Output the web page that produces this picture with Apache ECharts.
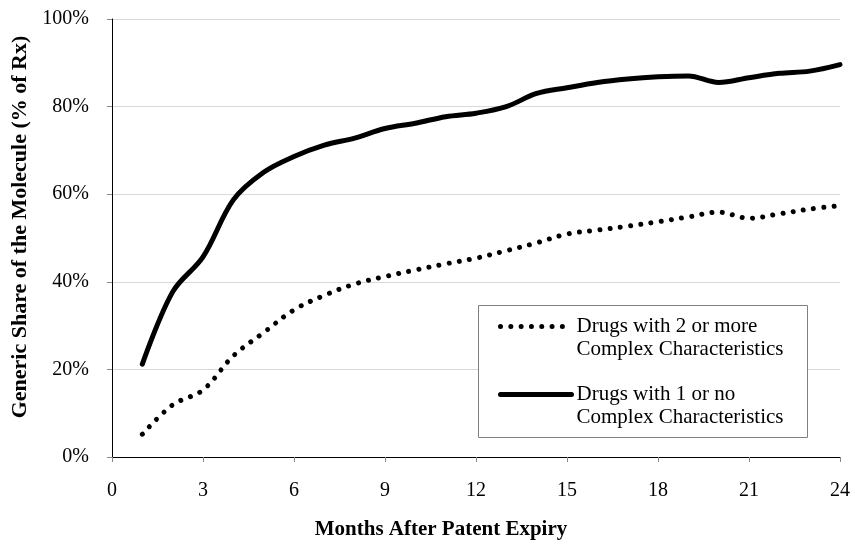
<!DOCTYPE html>
<html>
<head>
<meta charset="utf-8">
<script src="https://cdn.jsdelivr.net/npm/echarts@6/dist/echarts.min.js"></script>
<style>html,body{margin:0;padding:0;background:#fff;}#chart{width:855px;height:545px;}</style>
</head>
<body>
<div id="chart"></div>
<script>
var months = [1,2,3,4,5,6,7,8,9,10,11,12,13,14,15,16,17,18,19,20,21,22,23,24];
var complexTwoOrMore = [5.2,11.9,15.3,23.1,28.4,33.6,36.9,39.5,41.2,42.7,44.1,45.4,47.1,48.9,50.9,51.8,52.7,53.7,54.8,55.9,54.5,55.5,56.6,57.4];
var complexOneOrNone = [21.2,37.7,45.7,58.7,65.0,68.6,71.2,72.8,75.0,76.2,77.7,78.5,80.0,83.0,84.3,85.5,86.3,86.8,87.0,85.5,86.6,87.6,88.1,89.6];
var xTicks = [0,3,6,9,12,15,18,21,24];
var yTicks = [0,20,40,60,80,100];
var seriesNames = ['Drugs with 2 or more\nComplex Characteristics','Drugs with 1 or no\nComplex Characteristics'];

function pairs(xs, ys){ return xs.map(function(x,i){ return [x, ys[i]]; }); }

var FONT = '"Liberation Serif", "DejaVu Serif", serif';
var chart = echarts.init(document.getElementById('chart'), null, {renderer:'canvas'});
chart.setOption({
  animation: false,
  backgroundColor: '#ffffff',
  textStyle: { fontFamily: FONT, color: '#000' },
  grid: { left: 112, right: 15, top: 19, bottom: 88 },
  graphic: [{
    type: 'rect', z: 3, silent: true,
    shape: { x: 478.5, y: 305.5, width: 329, height: 132 },
    style: { fill: '#fff', stroke: '#808080', lineWidth: 1 }
  }],
  legend: {
    orient: 'vertical',
    left: 498, top: 292,
    padding: 0,
    itemGap: -1,
    itemWidth: 71, itemHeight: 14,
    selectedMode: false,
    z: 5,
    data: [seriesNames[0], seriesNames[1]],
    formatter: function(name){ return '\n' + name; },
    itemStyle: { opacity: 0 },
    lineStyle: { width: 'inherit' },
    textStyle: { fontFamily: FONT, fontSize: 21, color: '#000', lineHeight: 23 }
  },
  xAxis: {
    type: 'value', min: 0, max: 24, interval: 3,
    name: 'Months After Patent Expiry', nameLocation: 'middle', nameGap: 62,
    nameTextStyle: { fontFamily: FONT, fontSize: 21, fontWeight: 'bold', color: '#000', padding: [0, 70, 0, 0] },
    axisLine: { show: true, lineStyle: { color: '#000', width: 1 } },
    axisTick: { show: true, length: 5, lineStyle: { color: '#888' } },
    axisLabel: { fontFamily: FONT, fontSize: 20, color: '#000', margin: 24,
      formatter: function(v){ return xTicks.indexOf(v) >= 0 ? String(v) : ''; } },
    splitLine: { show: false }
  },
  yAxis: {
    type: 'value', min: 0, max: 100, interval: 20,
    name: 'Generic Share of the Molecule (% of Rx)', nameLocation: 'middle', nameGap: 80,
    nameTextStyle: { fontFamily: FONT, fontSize: 22, fontWeight: 'bold', color: '#000', padding: [0, 0, 0, 22] },
    axisLine: { show: true, lineStyle: { color: '#000', width: 1 } },
    axisTick: { show: true, length: 5, lineStyle: { color: '#888' } },
    axisLabel: { fontFamily: FONT, fontSize: 20, color: '#000', margin: 23,
      formatter: function(v){ return yTicks.indexOf(v) >= 0 ? v + '%' : ''; } },
    splitLine: { show: true, lineStyle: { color: '#d9d9d9', width: 1 } }
  },
  series: [
    {
      name: seriesNames[0], type: 'line', data: pairs(months, complexTwoOrMore),
      smooth: 0.35, showSymbol: false, symbol: 'none',
      lineStyle: { color: '#000', width: 5, type: [0.01, 10.3], cap: 'round' },
      itemStyle: { color: '#000' }
    },
    {
      name: seriesNames[1], type: 'line', data: pairs(months, complexOneOrNone),
      smooth: 0.35, showSymbol: false, symbol: 'none',
      lineStyle: { color: '#000', width: 5, cap: 'round' },
      itemStyle: { color: '#000' }
    }
  ]
});
</script>
</body>
</html>
